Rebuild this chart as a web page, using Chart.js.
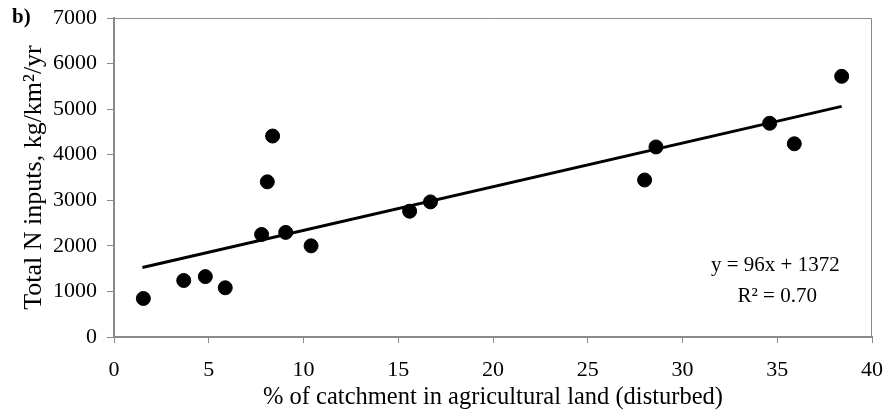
<!DOCTYPE html>
<html>
<head>
<meta charset="utf-8">
<script src="https://cdn.jsdelivr.net/npm/chart.js@4"></script>
<style>
  html, body { margin: 0; padding: 0; background: #fff; }
  #wrap { position: relative; width: 886px; height: 412px; }
  #panel { position: absolute; left: 12px; top: 4px; font: bold 21px "Liberation Serif", serif; color: #000; }
</style>
</head>
<body>
<div id="wrap">
  <canvas id="scatterChart" width="886" height="412"></canvas>
  <div id="panel">b)</div>
</div>
<script>
// 농업 토지 비율 (%)
const agriPct = [1.55, 3.68, 4.82, 5.87, 7.79, 8.09, 8.37, 9.06, 10.4, 15.6, 16.7, 28.0, 28.6, 34.6, 35.9, 38.4];
// 총 N 투입량 (kg/km2/yr)
const nInputs = [845, 1240, 1325, 1080, 2250, 3405, 4410, 2295, 2000, 2760, 2965, 3445, 4170, 4690, 4240, 5720];
// 추세선 양 끝점
const trendX = [1.5, 38.4];
const trendY = [1525, 5060];
const equationLines = ['y = 96x + 1372', 'R² = 0.70'];

const serif = '"Liberation Serif", "DejaVu Serif", serif';
const axisGray = '#8a8a8a';

// 플롯 영역 테두리 + 회귀식 텍스트
const boxAndText = {
    id: 'boxAndText',
    afterDraw(chart) {
        const ctx = chart.ctx;
        const a = chart.chartArea;
        ctx.save();
        ctx.strokeStyle = axisGray;
        ctx.lineWidth = 1;
        ctx.beginPath();
        ctx.moveTo(a.left, a.top + 0.5);
        ctx.lineTo(a.right - 0.5, a.top + 0.5);
        ctx.lineTo(a.right - 0.5, a.bottom);
        ctx.stroke();

        const xs = chart.scales.x, ys = chart.scales.y;
        ctx.fillStyle = '#000';
        ctx.font = '21px ' + serif;
        ctx.textAlign = 'center';
        ctx.textBaseline = 'middle';
        ctx.fillText(equationLines[0], xs.getPixelForValue(34.9), ys.getPixelForValue(1560));
        ctx.fillText(equationLines[1], xs.getPixelForValue(35.0), ys.getPixelForValue(900));
        ctx.restore();
    }
};

const ctx = document.getElementById('scatterChart').getContext('2d');
new Chart(ctx, {
    type: 'scatter',
    data: {
        datasets: [
            {
                label: 'Total N inputs',
                data: agriPct.map((x, i) => ({ x: x, y: nInputs[i] })),
                backgroundColor: '#000',
                borderColor: '#000',
                pointRadius: 7,
                pointHoverRadius: 7
            },
            {
                label: 'Trend',
                type: 'line',
                data: trendX.map((x, i) => ({ x: x, y: trendY[i] })),
                borderColor: '#000',
                borderWidth: 3,
                pointRadius: 0,
                fill: false
            }
        ]
    },
    options: {
        responsive: false,
        animation: false,
        layout: { padding: { left: 0, right: 14, top: 18, bottom: 0 } },
        plugins: {
            legend: { display: false },
            tooltip: { enabled: false }
        },
        scales: {
            x: {
                type: 'linear',
                min: 0,
                max: 40,
                afterFit(scale) {
                    scale.height = 75;
                    scale.paddingLeft = 0;
                    scale.paddingRight = 0;
                },
                ticks: {
                    stepSize: 5,
                    color: '#000',
                    padding: 14,
                    callback: v => String(v),
                    font: { family: serif, size: 22 }
                },
                grid: {
                    drawOnChartArea: false,
                    tickLength: 6,
                    color: axisGray
                },
                border: { color: axisGray, width: 2 },
                title: {
                    display: true,
                    text: '% of catchment in agricultural land (disturbed)',
                    color: '#000',
                    padding: { top: 0, bottom: 0 },
                    font: { family: serif, size: 24.5 }
                }
            },
            y: {
                min: 0,
                max: 7000,
                afterFit(scale) {
                    scale.width = 114;
                    scale.paddingTop = 0;
                    scale.paddingBottom = 0;
                },
                ticks: {
                    stepSize: 1000,
                    color: '#000',
                    padding: 10,
                    callback: v => String(v),
                    font: { family: serif, size: 22 }
                },
                grid: {
                    drawOnChartArea: false,
                    tickLength: 7,
                    color: axisGray
                },
                border: { color: axisGray, width: 2 },
                title: {
                    display: true,
                    text: 'Total N inputs, kg/km²/yr',
                    color: '#000',
                    padding: { top: 19, bottom: 0 },
                    font: { family: serif, size: 26 }
                }
            }
        }
    },
    plugins: [boxAndText]
});
</script>
</body>
</html>
